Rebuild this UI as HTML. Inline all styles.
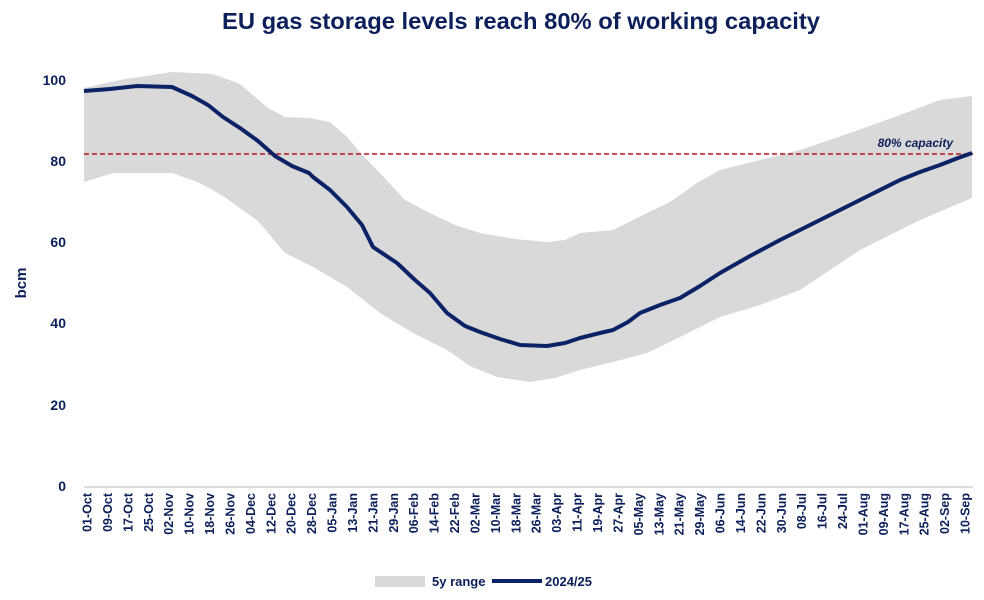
<!DOCTYPE html>
<html><head><meta charset="utf-8"><style>
body{margin:0;background:#fff;}
svg{display:block;font-family:"Liberation Sans",sans-serif;}
</style></head><body>
<svg width="984" height="600" viewBox="0 0 984 600" xmlns="http://www.w3.org/2000/svg">
<text x="521" y="29" text-anchor="middle" font-size="23.5" font-weight="bold" fill="#0c1f5a" textLength="598" lengthAdjust="spacingAndGlyphs">EU gas storage levels reach 80% of working capacity</text>
<polygon fill="#d9d9d9" points="84,88 120,80 172,72 213,74 240,84 268,108 285,117 309,118 330,122 347,137 365,158 380,173 405,200 430,213 455,225 480,233 515,239 547,242 565,240 580,233 613,230 647,213 670,202 697,183 720,170 760,160 800,150 850,133 900,115 940,100 972,96 972,198 920,220 860,250 800,290 760,305 720,317 680,337 647,353 613,362 580,370 555,378 530,382 497,377 470,366 447,350 413,333 380,313 347,287 313,267 285,253 258,221 223,196 200,183 172,173 113,173 84,182"/>
<line x1="84" y1="487" x2="973" y2="487" stroke="#d0d0d0" stroke-width="1.5"/>
<line x1="84" y1="154" x2="973" y2="154" stroke="#b01818" stroke-width="1.6" stroke-dasharray="5,3"/>
<polyline fill="none" stroke="#0b2266" stroke-width="4" stroke-linejoin="round" points="84,91 110,89 137,86 172,87 192,96 208,105 223,117 240,128 258,141 275,156 292,166 309,173 313,177 330,190 347,207 362,225 373,247 397,263 415,280 430,293 447,313 465,326 480,332 500,339 520,345 547,346 565,343 580,338 600,333 613,330 628,322 640,313 660,305 680,298 700,286 720,273 750,256 780,240 810,225 840,210 870,195 900,180 920,172 940,165 958,158 972,153"/>
<text x="953" y="147" text-anchor="end" font-size="12" font-weight="bold" font-style="italic" fill="#0c1f5a">80% capacity</text>
<g font-size="14" font-weight="bold" fill="#0c1f5a" text-anchor="end">
<text x="66" y="85">100</text><text x="66" y="166">80</text><text x="66" y="247">60</text><text x="66" y="328">40</text><text x="66" y="410">20</text><text x="66" y="491">0</text>
</g>
<text transform="translate(26,283) rotate(-90)" text-anchor="middle" font-size="15" font-weight="bold" fill="#0c1f5a">bcm</text>
<g id="xl" font-size="12.5" font-weight="bold" fill="#0c1f5a" text-anchor="end"></g>
<rect x="375" y="576" width="50" height="11" fill="#d9d9d9"/>
<text x="432" y="586" font-size="13" font-weight="bold" fill="#0c1f5a">5y range</text>
<line x1="492" y1="581" x2="542" y2="581" stroke="#0b2266" stroke-width="4"/>
<text x="545" y="586" font-size="13" font-weight="bold" fill="#0c1f5a">2024/25</text>
</svg>
<script>
var L="01-Oct,09-Oct,17-Oct,25-Oct,02-Nov,10-Nov,18-Nov,26-Nov,04-Dec,12-Dec,20-Dec,28-Dec,05-Jan,13-Jan,21-Jan,29-Jan,06-Feb,14-Feb,22-Feb,02-Mar,10-Mar,18-Mar,26-Mar,03-Apr,11-Apr,19-Apr,27-Apr,05-May,13-May,21-May,29-May,06-Jun,14-Jun,22-Jun,30-Jun,08-Jul,16-Jul,24-Jul,01-Aug,09-Aug,17-Aug,25-Aug,02-Sep,10-Sep".split(",");
var g=document.getElementById("xl"),s="";
for(var i=0;i<L.length;i++){var x=87+i*20.42+4.5;s+='<text transform="translate('+x.toFixed(1)+',493) rotate(-90)">'+L[i]+'</text>';}
g.innerHTML=s;
</script>
</body></html>
